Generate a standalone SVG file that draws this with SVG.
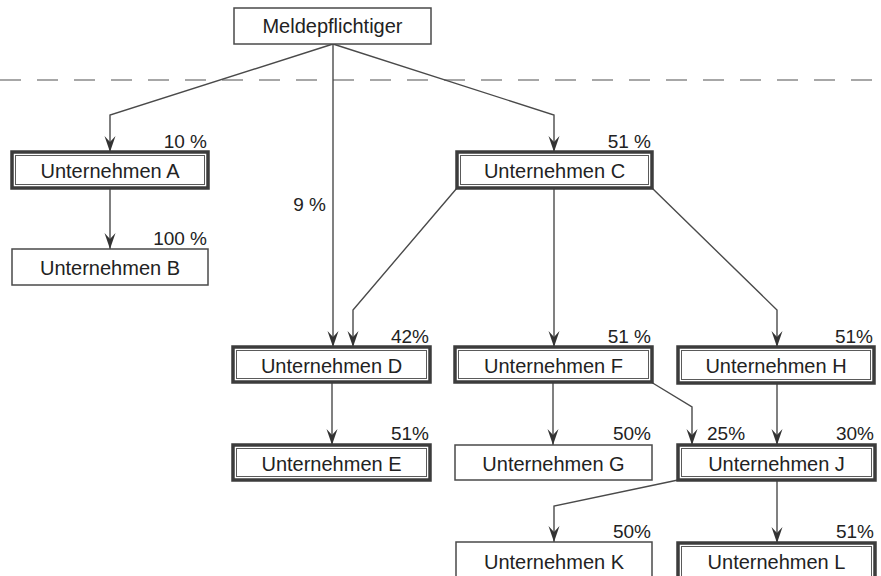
<svg xmlns="http://www.w3.org/2000/svg" width="881" height="576" viewBox="0 0 881 576">
<defs>
<style>
.bg{fill:#ffffff}
.single{fill:#ffffff;stroke:#4a4a4a;stroke-width:1.5}
.outer{fill:#ffffff;stroke:#3c3c3c;stroke-width:3.5}
.inner{fill:none;stroke:#5a5a5a;stroke-width:1}
.lbl{font-family:"Liberation Sans",Arial,sans-serif;font-size:20px;fill:#222;text-anchor:middle}
.pct{font-family:"Liberation Sans",Arial,sans-serif;font-size:19px;fill:#222;text-anchor:end}
.con{fill:none;stroke:#4a4a4a;stroke-width:1.4;marker-end:url(#arr)}
.dash{stroke:#8a8a8a;stroke-width:1.6;stroke-dasharray:21 16;fill:none}
</style>
<marker id="arr" viewBox="-17 -7 18 14" refX="0" refY="0" markerWidth="18" markerHeight="14" orient="auto" markerUnits="userSpaceOnUse">
<path d="M0,0 L-16,-5.5 L-10,0 L-16,5.5 Z" fill="#333"/>
</marker>
</defs>
<rect class="bg" x="0" y="0" width="881" height="576"/>
<line class="dash" x1="0" y1="80" x2="881" y2="80"/>

<g id="connectors">
<path class="con" d="M333,44 L110,115 L110,152"/>
<path class="con" d="M333,44 L333,347"/>
<path class="con" d="M333,44 L554,115 L554,152"/>
<path class="con" d="M110,188 L110,249"/>
<path class="con" d="M457,188 L353,310 L353,347"/>
<path class="con" d="M554,188 L554,347"/>
<path class="con" d="M652,188 L777,310 L777,347"/>
<path class="con" d="M332,382 L332,445"/>
<path class="con" d="M553,382 L553,445"/>
<path class="con" d="M651,382 L692,407 L692,445"/>
<path class="con" d="M777,383 L777,445"/>
<path class="con" d="M678,480 L554,506 L554,542"/>
<path class="con" d="M777,480 L777,543"/>
</g>

<g id="meldepflichtiger">
<rect class="single" x="234" y="8" width="197" height="36"/>
<text class="lbl" x="332.5" y="33">Meldepflichtiger</text>
</g>

<g id="unternehmen-a">
<rect class="outer" x="12" y="152" width="196" height="36"/>
<rect class="inner" x="15.5" y="155.5" width="189" height="29"/>
<text class="lbl" x="110" y="178">Unternehmen A</text>
<text class="pct" x="207" y="148">10 %</text>
</g>

<g id="unternehmen-b">
<rect class="single" x="12" y="249" width="196" height="36"/>
<text class="lbl" x="110" y="275">Unternehmen B</text>
<text class="pct" x="207" y="245">100 %</text>
</g>

<g id="label-9">
<text class="pct" x="326" y="211">9 %</text>
</g>

<g id="unternehmen-c">
<rect class="outer" x="457" y="152" width="195" height="36"/>
<rect class="inner" x="460.5" y="155.5" width="188" height="29"/>
<text class="lbl" x="554.5" y="178">Unternehmen C</text>
<text class="pct" x="651" y="148">51 %</text>
</g>

<g id="unternehmen-d">
<rect class="outer" x="233" y="347" width="197" height="35"/>
<rect class="inner" x="236.5" y="350.5" width="190" height="28"/>
<text class="lbl" x="331.5" y="373">Unternehmen D</text>
<text class="pct" x="429" y="343">42%</text>
</g>

<g id="unternehmen-e">
<rect class="outer" x="233" y="445" width="197" height="35"/>
<rect class="inner" x="236.5" y="448.5" width="190" height="28"/>
<text class="lbl" x="331.5" y="471">Unternehmen E</text>
<text class="pct" x="429" y="440">51%</text>
</g>

<g id="unternehmen-f">
<rect class="outer" x="455" y="347" width="197" height="35"/>
<rect class="inner" x="458.5" y="350.5" width="190" height="28"/>
<text class="lbl" x="553.5" y="373">Unternehmen F</text>
<text class="pct" x="651" y="343">51 %</text>
</g>

<g id="unternehmen-g">
<rect class="single" x="455" y="445" width="197" height="35"/>
<text class="lbl" x="553.5" y="471">Unternehmen G</text>
<text class="pct" x="651" y="440">50%</text>
</g>

<g id="unternehmen-h">
<rect class="outer" x="678" y="347" width="196" height="36"/>
<rect class="inner" x="681.5" y="350.5" width="189" height="29"/>
<text class="lbl" x="776" y="373">Unternehmen H</text>
<text class="pct" x="873" y="343">51%</text>
</g>

<g id="unternehmen-j">
<rect class="outer" x="678" y="445" width="197" height="35"/>
<rect class="inner" x="681.5" y="448.5" width="190" height="28"/>
<text class="lbl" x="776.5" y="471">Unternehmen J</text>
<text class="pct" x="874" y="440">30%</text>
<text class="pct" x="707" y="440" style="text-anchor:start">25%</text>
</g>

<g id="unternehmen-k">
<rect class="single" x="456" y="542" width="196" height="37"/>
<text class="lbl" x="554" y="569">Unternehmen K</text>
<text class="pct" x="651" y="538">50%</text>
</g>

<g id="unternehmen-l">
<rect class="outer" x="678" y="543" width="197" height="37"/>
<rect class="inner" x="681.5" y="546.5" width="190" height="30"/>
<text class="lbl" x="776.5" y="569">Unternehmen L</text>
<text class="pct" x="874" y="538">51%</text>
</g>
</svg>
